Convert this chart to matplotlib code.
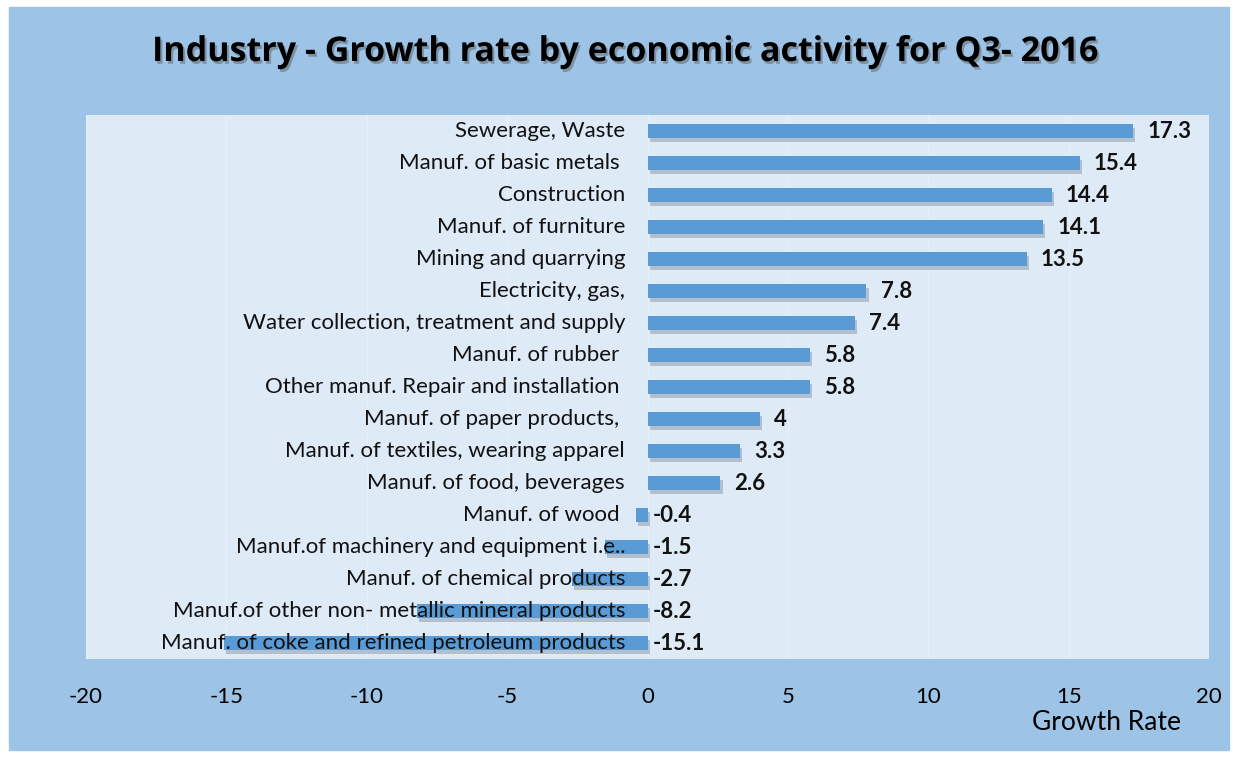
import matplotlib.pyplot as plt
import matplotlib.patheffects as pe

# Data, top to bottom as shown
categories = [
    "Sewerage, Waste",
    "Manuf. of basic metals ",
    "Construction",
    "Manuf. of furniture",
    "Mining and quarrying",
    "Electricity, gas,",
    "Water collection, treatment and supply",
    "Manuf. of rubber ",
    "Other manuf. Repair and installation ",
    "Manuf. of paper products, ",
    "Manuf. of textiles, wearing apparel",
    "Manuf. of food, beverages",
    "Manuf. of wood ",
    "Manuf.of machinery and equipment i.e..",
    "Manuf. of chemical products",
    "Manuf.of other non- metallic mineral products",
    "Manuf. of coke and refined petroleum products",
]
growth = [17.3, 15.4, 14.4, 14.1, 13.5, 7.8, 7.4, 5.8, 5.8, 4, 3.3, 2.6,
          -0.4, -1.5, -2.7, -8.2, -15.1]
value_labels = ["17.3", "15.4", "14.4", "14.1", "13.5", "7.8", "7.4", "5.8",
                "5.8", "4", "3.3", "2.6", "-0.4", "-1.5", "-2.7", "-8.2", "-15.1"]
xticks = [-20, -15, -10, -5, 0, 5, 10, 15, 20]

OUTER = "#9DC3E6"
PLOT_BG = "#DEEAF6"
BAR = "#5B9BD5"
FONT = ["Lato", "DejaVu Sans"]

plt.rcParams["font.family"] = FONT

fig = plt.figure(figsize=(12.33, 7.57), dpi=100, facecolor="white")
# blue chart area inside a thin white border
fig.patches.append(plt.Rectangle((9 / 1233, 7 / 757), 1220 / 1233, 743 / 757,
                                 transform=fig.transFigure, color=OUTER,
                                 zorder=-10))

ax = fig.add_axes([86 / 1233, 1 - 659 / 757, 1123 / 1233, 544 / 757])
ax.set_zorder(2)
ax.set_facecolor(PLOT_BG)
for s in ax.spines.values():
    s.set_visible(False)

y = list(range(len(categories)))
bars = ax.barh(y, growth, height=0.44, color=BAR, zorder=3)
for b in bars:
    b.set_path_effects([pe.SimplePatchShadow(offset=(1.5, -3), shadow_rgbFace="#7F8C99",
                                             alpha=0.45), pe.Normal()])

ax.set_ylim(len(categories) - 0.5, -0.5)
ax.set_xlim(-20, 20)
ax.set_yticks([])
ax.set_xticks(xticks)
ax.set_xticklabels([str(t) for t in xticks], fontsize=16)
ax.tick_params(axis="x", length=0, pad=20)
ax.grid(axis="x", color="#E6EEF7", lw=1, zorder=1)

for yi, name, v, lab in zip(y, categories, growth, value_labels):
    ax.text(-0.8, yi, name, ha="right", va="center", fontsize=16,
            color="#111111", zorder=4)
    ax.text(max(v, 0) + (0.5 if v > 0 else 0.2), yi, lab, ha="left",
            va="center", fontsize=16, fontweight="bold", color="#111111",
            zorder=4)

fig.text(1107 / 1233, 1 - 723 / 757, "Growth Rate", ha="center", va="center",
         fontsize=19)

fig.text(625 / 1233, 1 - 52 / 757,
         "Industry - Growth rate by economic activity for Q3- 2016",
         ha="center", va="center", fontsize=24.5, fontweight="bold",
         color="black", family=["Open Sans", "DejaVu Sans"],
         path_effects=[pe.withSimplePatchShadow(offset=(1.5, -2),
                                                shadow_rgbFace="#555555",
                                                alpha=0.45)])

fig.savefig("out.png", dpi=100, facecolor="white")
